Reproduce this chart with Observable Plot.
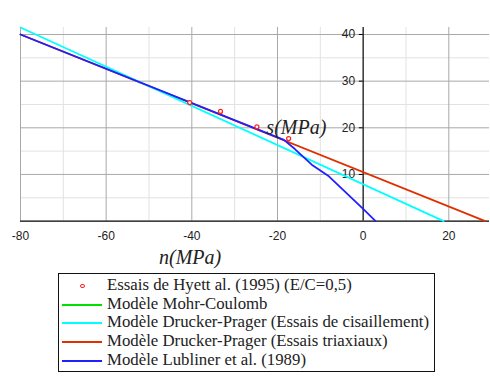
<!DOCTYPE html>
<html>
<head>
<meta charset="utf-8">
<script src="https://cdn.jsdelivr.net/npm/d3@7"></script>
<script src="https://cdn.jsdelivr.net/npm/@observablehq/plot@0.6"></script>
<style>
  html, body { margin: 0; padding: 0; background: #fff; }
  #wrap { position: relative; width: 490px; height: 381px; }
  #legend {
    position: absolute; left: 58px; top: 273px; width: 377px; height: 99px;
    border: 1px solid #111; box-sizing: border-box;
    font-family: "Liberation Serif", "Times New Roman", serif; font-size: 16.8px; color: #222;
    padding-top: 2px;
  }
  .row { position: relative; height: 18.7px; line-height: 18.7px; }
  .row .sw { position: absolute; left: 3px; top: 9px; width: 40px; height: 2px; }
  .row .dot { position: absolute; left: 21px; top: 7.5px; width: 2.5px; height: 2.5px; border: 1.2px solid #ff2020; border-radius: 50%; }
  .row .lab { position: absolute; left: 48px; top: 0; white-space: nowrap; }
</style>
</head>
<body>
<div id="wrap"></div>
<script>
// Data
const hyettN = [-40.5, -33.3, -24.8, -17.4];
const hyettS = [25.4, 23.5, 20.2, 17.7];

const dpShearN = [-80, 18.8];
const dpShearS = [41.5, 0];

const dpTriaxN = [-80, 28.5];
const dpTriaxS = [40, 0];

const lublinerN = [-80, -18.5, -16, -12, -8, 0, 2.9];
const lublinerS = [40, 17.4, 15.5, 12.1, 9.6, 2.6, 0];

const xTicks = [-80, -60, -40, -20, 0, 20];
const yTicks = [10, 20, 30, 40];
const xMajor = [-80, -60, -40, -20, 20];
const xMinor = [-70, -50, -30, -10, 10];
const yMajor = [10, 20, 30, 40];
const yMinor = [5, 15, 25, 35];

const legendItems = [
  {label: "Essais de Hyett al. (1995) (E/C=0,5)", color: "#ff2020", kind: "dot"},
  {label: "Modèle Mohr-Coulomb", color: "#00e000", kind: "line"},
  {label: "Modèle Drucker-Prager (Essais de cisaillement)", color: "#00ffff", kind: "line"},
  {label: "Modèle Drucker-Prager (Essais triaxiaux)", color: "#e03000", kind: "line"},
  {label: "Modèle Lubliner et al. (1989)", color: "#2020ff", kind: "line"}
];

const zip = (xs, ys) => xs.map((x, i) => ({x, y: ys[i]}));
const pts = zip(hyettN, hyettS);
const cyan = zip(dpShearN, dpShearS);
const red = zip(dpTriaxN, dpTriaxS);
const blue = zip(lublinerN, lublinerS);

const tickFont = "Liberation Sans, Arial, sans-serif";
const mathFont = "Liberation Serif, Times New Roman, serif";

const chart = Plot.plot({
  width: 490,
  height: 268,
  marginLeft: 20,
  marginRight: 1,
  marginTop: 27,
  marginBottom: 47.4,
  x: {domain: [-80, 29.5], axis: null},
  y: {domain: [0, 41.5], axis: null},
  style: {background: "white", overflow: "visible"},
  marks: [
    Plot.ruleX(xMinor, {stroke: "#e2e2e2", strokeWidth: 1}),
    Plot.ruleY(yMinor, {stroke: "#e2e2e2", strokeWidth: 1}),
    Plot.ruleX(xMajor, {stroke: "#a9a9a9", strokeWidth: 1}),
    Plot.ruleY(yMajor, {stroke: "#a9a9a9", strokeWidth: 1}),
    Plot.ruleY([0], {stroke: "#000", strokeWidth: 1.2}),
    Plot.ruleX([0], {stroke: "#000", strokeWidth: 1.2}),
    Plot.ruleY(yTicks, {y: d => d, x1: -0.9, x2: 0, stroke: "#000"}),
    Plot.text(xTicks, {x: d => d, y: 0, text: d => String(d), dy: 15, fontSize: 12, fontFamily: tickFont, fill: "#222"}),
    Plot.text(yTicks, {x: 0, y: d => d, text: d => String(d), dx: -8, textAnchor: "end", fontSize: 12, fontFamily: tickFont, fill: "#222"}),
    Plot.line(red, {x: "x", y: "y", stroke: "#e03000", strokeWidth: 1.8}),
    Plot.line(cyan, {x: "x", y: "y", stroke: "#00ffff", strokeWidth: 1.8}),
    Plot.line(blue, {x: "x", y: "y", stroke: "#2020ff", strokeWidth: 1.8}),
    Plot.dot(pts, {x: "x", y: "y", r: 2, stroke: "#ff2020", strokeWidth: 1.2, fill: "white"}),
    Plot.text(["n(MPa)"], {x: -40.4, y: 0, dy: 36, text: d => d, fontSize: 20, fontStyle: "italic", fontFamily: mathFont, fill: "#222", letterSpacing: 1.5}),
    Plot.text(["s(MPa)"], {x: -15.6, y: 20, text: d => d, fontSize: 20, fontStyle: "italic", fontFamily: mathFont, fill: "#222", letterSpacing: 1.5})
  ]
});

const wrap = document.getElementById("wrap");
wrap.appendChild(chart);

const legend = document.createElement("div");
legend.id = "legend";
for (const it of legendItems) {
  const row = document.createElement("div");
  row.className = "row";
  const sym = document.createElement("div");
  if (it.kind === "dot") {
    sym.className = "dot";
  } else {
    sym.className = "sw";
    sym.style.background = it.color;
  }
  row.appendChild(sym);
  const lab = document.createElement("span");
  lab.className = "lab";
  lab.textContent = it.label;
  row.appendChild(lab);
  legend.appendChild(row);
}
wrap.appendChild(legend);
</script>
</body>
</html>
